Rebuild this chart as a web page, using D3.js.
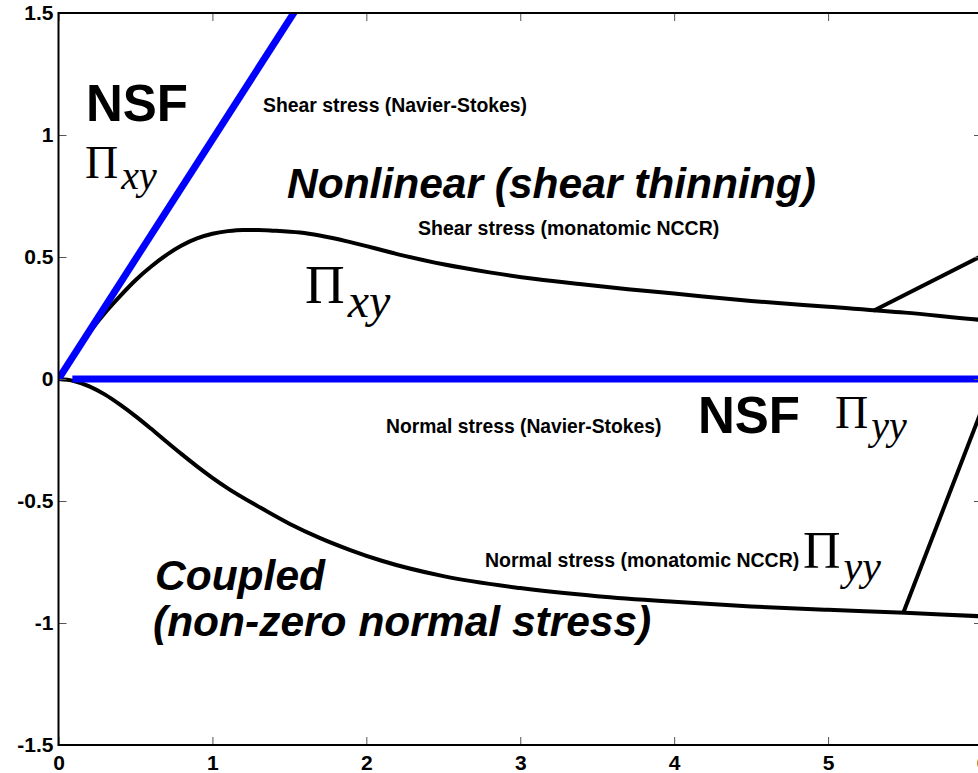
<!DOCTYPE html>
<html>
<head>
<meta charset="utf-8">
<script src="https://cdn.jsdelivr.net/npm/d3@7"></script>
<style>
  html, body { margin: 0; padding: 0; background: #fff; overflow: hidden; }
  svg { display: block; }
  .tick-label { font-family: "Liberation Sans", Arial, sans-serif; font-weight: bold; font-size: 21px; }
</style>
</head>
<body>
<div id="chart"></div>
<script>
// axis ticks
const xTicks = [0, 1, 2, 3, 4, 5, 6];
const yTicks = [-1.5, -1, -0.5, 0, 0.5, 1, 1.5];

// NSF (Navier-Stokes) shear stress: straight line
const nsfShearX = [0, 1.62];
const nsfShearY = [0, 1.59];

// NSF normal stress: zero
const nsfNormalX = [0.09, 6.1];
const nsfNormalY = [0, 0];

// monatomic NCCR shear stress
const nccrShearX = [0, 0.1, 0.2, 0.3, 0.4, 0.5, 0.6, 0.7, 0.8, 0.9, 1.0, 1.1, 1.2, 1.3, 1.4, 1.57, 1.89, 2.2, 2.5, 2.8, 3.1, 3.4, 3.7, 4.0, 4.5, 5.0, 5.5, 5.98, 6.1];
const nccrShearY = [0, 0.098, 0.19, 0.27, 0.34, 0.405, 0.46, 0.508, 0.547, 0.576, 0.595, 0.606, 0.611, 0.611, 0.608, 0.600, 0.562, 0.512, 0.470, 0.437, 0.410, 0.388, 0.368, 0.350, 0.320, 0.296, 0.272, 0.243, 0.237];

// monatomic NCCR normal stress
const nccrNormalX = [0, 0.1, 0.2, 0.3, 0.4, 0.5, 0.6, 0.7, 0.8, 0.9, 1.0, 1.1, 1.3, 1.5, 1.7, 1.9, 2.1, 2.5, 3.0, 3.5, 4.0, 4.5, 5.0, 5.5, 5.98, 6.1];
const nccrNormalY = [0, -0.008, -0.03, -0.063, -0.105, -0.152, -0.203, -0.256, -0.308, -0.358, -0.405, -0.448, -0.523, -0.593, -0.652, -0.702, -0.745, -0.808, -0.857, -0.89, -0.913, -0.932, -0.946, -0.958, -0.972, -0.975];

// pointer lines towards the right
const pointerUpX = [5.295, 6.1];
const pointerUpY = [0.28, 0.537];
const pointerDownX = [5.49, 6.1];
const pointerDownY = [-0.956, 0.04];

const width = 978, height = 773;
const margin = {left: 58.5, top: 13, bottom: 28};
const plotRight = 982;

const svg = d3.select("#chart").append("svg").attr("width", width).attr("height", height);

const x = d3.scaleLinear().domain([0, 6]).range([margin.left, plotRight]);
const y = d3.scaleLinear().domain([-1.5, 1.5]).range([height - margin.bottom, margin.top]);

svg.append("clipPath").attr("id", "plot-clip")
  .append("rect")
  .attr("x", x(0)).attr("y", y(1.5))
  .attr("width", x(6) - x(0)).attr("height", y(-1.5) - y(1.5));

const zip = (xs, ys) => xs.map((v, i) => [v, ys[i]]);
const smooth = d3.line().x(d => x(d[0])).y(d => y(d[1])).curve(d3.curveMonotoneX);
const straight = d3.line().x(d => x(d[0])).y(d => y(d[1]));

const g = svg.append("g").attr("clip-path", "url(#plot-clip)");

// black curves first, blue on top
[[nccrShearX, nccrShearY, smooth], [nccrNormalX, nccrNormalY, smooth],
 [pointerUpX, pointerUpY, straight], [pointerDownX, pointerDownY, straight]].forEach(([xs, ys, gen]) => {
  g.append("path").attr("d", gen(zip(xs, ys)))
    .attr("fill", "none").attr("stroke", "#000").attr("stroke-width", 4);
});

[[nsfShearX, nsfShearY], [nsfNormalX, nsfNormalY]].forEach(([xs, ys]) => {
  g.append("path").attr("d", straight(zip(xs, ys)))
    .attr("fill", "none").attr("stroke", "#0000ff").attr("stroke-width", 7);
});

// axes: bottom/left with labels, top/right ticks only
const tickLen = 8;
svg.append("g").attr("transform", `translate(0,${y(-1.5)})`)
  .call(d3.axisBottom(x).tickValues(xTicks).tickSize(-tickLen).tickPadding(10).tickFormat(d => String(d)))
  .call(a => a.select(".domain").remove())
  .call(a => a.selectAll("line").attr("stroke", "#555"))
  .call(a => a.selectAll("text").attr("class", "tick-label").attr("fill", "#000"));

svg.append("g").attr("transform", `translate(${x(0)},0)`)
  .call(d3.axisLeft(y).tickValues(yTicks).tickSize(-tickLen).tickPadding(5).tickFormat(d => String(d)))
  .call(a => a.select(".domain").remove())
  .call(a => a.selectAll("line").attr("stroke", "#555"))
  .call(a => a.selectAll("text").attr("class", "tick-label").attr("fill", "#000"));

svg.append("g").attr("transform", `translate(0,${y(1.5)})`)
  .call(d3.axisTop(x).tickValues(xTicks).tickSize(-tickLen).tickFormat(""))
  .call(a => a.select(".domain").remove())
  .call(a => a.selectAll("line").attr("stroke", "#555"));

svg.append("g").attr("transform", `translate(${x(6)},0)`)
  .call(d3.axisRight(y).tickValues(yTicks).tickSize(-tickLen).tickFormat(""))
  .call(a => a.select(".domain").remove())
  .call(a => a.selectAll("line").attr("stroke", "#555"));

svg.append("rect")
  .attr("x", x(0)).attr("y", y(1.5))
  .attr("width", x(6) - x(0)).attr("height", y(-1.5) - y(1.5))
  .attr("fill", "none").attr("stroke", "#000").attr("stroke-width", 2);

// annotations
const sans = '"Liberation Sans", Arial, sans-serif';
const serif = '"Liberation Serif", "Times New Roman", serif';

function label(px, py, txt, size, italic) {
  svg.append("text").attr("x", px).attr("y", py)
    .attr("font-family", sans).attr("font-weight", "bold")
    .attr("font-style", italic ? "italic" : "normal")
    .attr("font-size", size).attr("fill", "#000").text(txt);
}
function pi(px, py, sub, size, subSize, drop) {
  const t = svg.append("text").attr("x", px).attr("y", py)
    .attr("font-family", serif).attr("fill", "#000");
  t.append("tspan").attr("font-size", size).text("\u03A0");
  t.append("tspan").attr("font-size", subSize).attr("font-style", "italic")
    .attr("dx", 3).attr("dy", drop).text(sub);
}

label(86, 121, "NSF", 51);
pi(85, 178, "xy", 46, 40, 11);
label(263, 112, "Shear stress (Navier-Stokes)", 19.4);
label(287, 198, "Nonlinear (shear thinning)", 42.5, true);
label(418, 235, "Shear stress (monatomic NCCR)", 19.5);
pi(305, 303, "xy", 55, 48, 14);
label(386, 433, "Normal stress (Navier-Stokes)", 19.3);
label(698, 433, "NSF", 51);
pi(835, 428, "yy", 46, 40, 11);
label(485, 567, "Normal stress (monatomic NCCR)", 19.5);
pi(803, 568, "yy", 52, 42, 12);
label(155, 590, "Coupled", 42.5, true);
label(153, 636, "(non-zero normal stress)", 42.5, true);
</script>
</body>
</html>
